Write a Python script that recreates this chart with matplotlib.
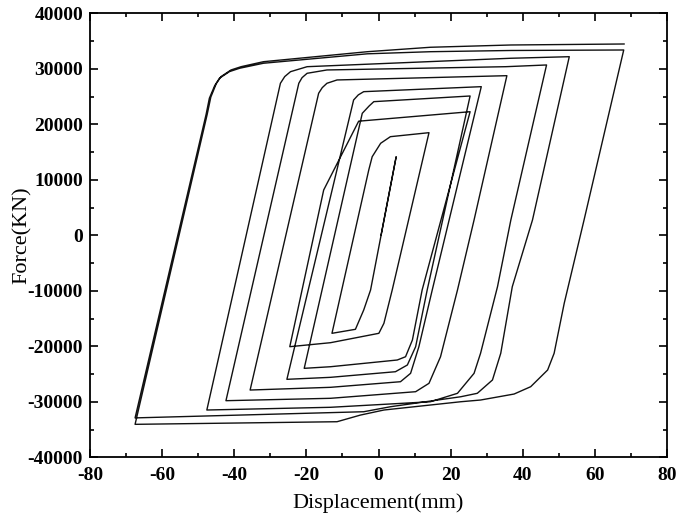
import matplotlib
matplotlib.use("Agg")
import matplotlib.pyplot as plt
from matplotlib.ticker import MultipleLocator
import numpy as np

# ---- digitised hysteresis path (Displacement mm, Force KN), in load order ----
init_disp  = [0.7, 4.9, -2.2, -4.1, -6.4, -12.9]
init_force = [0, 14160, -9860, -13460, -16940, -17660]

cyc1_disp  = [-2.7, -1.75, 0.6, 3.3, 14.0, 3.8, 1.5, 0.1, -13.3, -24.6]
cyc1_force = [11770, 14160, 16580, 17770, 18490, -9860, -15860, -17660, -19350, -20070]

cyc2_disp  = [-15.2, -5.5, 25.4, 12.1, 9.4, 7.5, 5.2, -13.3, -20.6]
cyc2_force = [8160, 20560, 22270, -9860, -18870, -21880, -22470, -23680, -23970]

cyc3_disp  = [-4.5, -2.6, -1.3, 25.4, 13.5, 10.3, 8.0, 4.7, -13.3, -25.4]
cyc3_force = [21980, 23300, 24080, 25100, -9860, -20070, -23370, -24580, -25590, -25950]

cyc4_disp  = [-6.9, -5.6, -4.1, 28.5, 14.9, 11.2, 8.9, 6.1, -13.3, -35.6]
cyc4_force = [24380, 25300, 25880, 26780, -9860, -20070, -24870, -26380, -27390, -27880]

cyc5_disp  = [-16.6, -15.6, -14.3, -11.5, 35.6, 26.5, 21.9, 17.2, 14.0, 10.3, -13.3, -42.3]
cyc5_force = [25590, 26600, 27390, 27990, 28760, 2760, -9860, -21880, -26670, -28180, -29370, -29800]

cyc6_disp  = [-22.1, -21.2, -19.8, -14.3, 35.3, 46.6, 36.7, 33.0, 28.3, 26.5, 21.9, 14.4, -13.3, -47.6]
cyc6_force = [27390, 28400, 29190, 29790, 30380, 30690, 2760, -9260, -21260, -24870, -28470, -29990, -30990, -31480]

cyc7_disp  = [-27.2, -26.0, -24.4, -19.8, 36.7, 52.9, 42.7, 37.1, 33.9, 31.6, 27.4, 22.8, 3.3, -4.1, -67.5]
cyc7_force = [27390, 28600, 29480, 30380, 31900, 32180, 2760, -9260, -21260, -26070, -28470, -29090, -30890, -31790, -32900]

cyc8_disp  = [-47.8, -46.9, -45.4, -44.1, -41.3, -38.5, -31.9, -3.1, 14.4, 36.7, 68.0,
              57.0, 51.5, 48.7, 46.9, 42.2, 37.6, 28.3, 22.8, 1.5, -5.0, -11.5, -67.5]
cyc8_force = [21800, 24700, 27000, 28300, 29500, 30100, 31000, 32700, 33080, 33300, 33390,
              2760, -12250, -21260, -24270, -27280, -28600, -29680, -29990, -31480, -32390, -33590, -34060]

cyc9_disp  = [-47.5, -46.5, -45.0, -43.7, -40.9, -38.1, -31.9, -3.1, 14.4, 36.7, 68.1]
cyc9_force = [21800, 24900, 27300, 28580, 29790, 30380, 31280, 33080, 33880, 34290, 34470]

disp = np.concatenate([init_disp, cyc1_disp, cyc2_disp, cyc3_disp, cyc4_disp,
                       cyc5_disp, cyc6_disp, cyc7_disp, cyc8_disp, cyc9_disp])
force = np.concatenate([init_force, cyc1_force, cyc2_force, cyc3_force, cyc4_force,
                        cyc5_force, cyc6_force, cyc7_force, cyc8_force, cyc9_force])

x_ticks = [-80, -60, -40, -20, 0, 20, 40, 60, 80]
y_ticks = [-40000, -30000, -20000, -10000, 0, 10000, 20000, 30000, 40000]

plt.rcParams['font.family'] = ['Liberation Serif', 'DejaVu Serif']
plt.rcParams['axes.unicode_minus'] = False

fig = plt.figure(figsize=(6.77, 5.18), dpi=100)
ax = fig.add_axes([90/677, 1-457.3/518, (667-90)/677, (457.3-13.3)/518])

ax.plot(disp, force, color='#111111', lw=1.0, solid_joinstyle='round')

ax.set_xlim(-80, 80)
ax.set_ylim(-40000, 40000)
ax.set_xticks(x_ticks)
ax.set_yticks(y_ticks)
ax.xaxis.set_minor_locator(MultipleLocator(10))
ax.yaxis.set_minor_locator(MultipleLocator(5000))
ax.tick_params(which='both', direction='in', top=True, right=True, width=1.2, colors='black')
ax.tick_params(which='major', length=5.5, labelsize=14)
ax.tick_params(axis='x', which='major', pad=7)
ax.tick_params(axis='y', which='major', pad=5)
ax.tick_params(which='minor', length=3)
for lab in ax.get_xticklabels() + ax.get_yticklabels():
    lab.set_fontweight('bold')
for s in ax.spines.values():
    s.set_linewidth(1.3)

ax.set_xlabel('Displacement(mm)', fontsize=16, va='center')
ax.set_ylabel('Force(KN)', fontsize=16, va='center')
ax.xaxis.set_label_coords(0.5, -(503 - 457.3) / 444)
ax.yaxis.set_label_coords(-(90 - 22) / 577, 0.5)

fig.savefig('out.png', dpi=100)
